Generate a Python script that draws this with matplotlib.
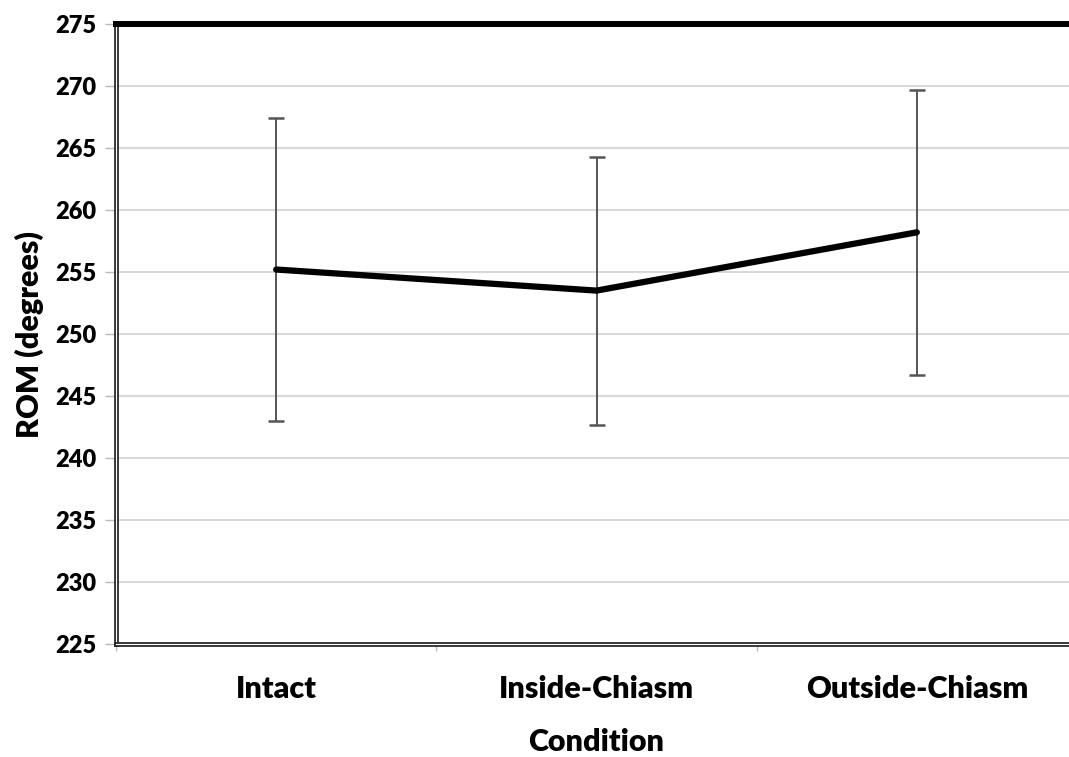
import numpy as np
import matplotlib
matplotlib.use("Agg")
import matplotlib.pyplot as plt
import matplotlib.patheffects as pe

# data
conditions = ["Intact", "Inside-Chiasm", "Outside-Chiasm"]
rom_mean = [255.2, 253.5, 258.2]
rom_err = [12.2, 10.8, 11.5]
y_ticks = [225, 230, 235, 240, 245, 250, 255, 260, 265, 270, 275]

plt.rcParams["font.family"] = ["Lato", "DejaVu Sans"]
plt.rcParams["font.weight"] = "heavy"

fig = plt.figure(figsize=(10.69, 7.57), dpi=100)
ax = fig.add_axes([116 / 1069, 113 / 757, 961 / 1069, 620 / 757])

x = np.arange(len(conditions)) + 0.5

ax.errorbar(x, rom_mean, yerr=rom_err, fmt="none", ecolor="#555555",
            elinewidth=1.4, capsize=6, capthick=1.8, zorder=3)
ax.plot(x, rom_mean, color="black", lw=4.5, solid_capstyle="round", zorder=4)

ax.set_xlim(0, 3)
ax.set_ylim(225, 275)
ax.set_yticks(y_ticks)
ax.set_xticks([0, 1, 2, 3])
ax.set_xticklabels([])
ax.set_xticks(x, minor=True)
ax.set_xticklabels(conditions, minor=True, fontsize=22, fontweight="heavy")
ax.tick_params(axis="x", which="minor", length=0, pad=22)
ax.tick_params(axis="x", which="major", length=5, color="#bbbbbb", width=1)
ax.tick_params(axis="y", length=8, color="#bbbbbb", width=1, pad=6,
               labelsize=17)
for lab in ax.get_yticklabels():
    lab.set_fontweight("heavy")

ax.yaxis.grid(True, color="#d9d9d9", lw=1.5)
ax.set_axisbelow(True)

ax.spines["right"].set_visible(False)
ax.spines["top"].set_linewidth(4.3)
ax.spines["top"].set_color("black")
for side in ["left", "bottom"]:
    sp = ax.spines[side]
    sp.set_linewidth(3.2)
    sp.set_color("#222222")
    sp.set_path_effects([pe.Stroke(linewidth=3.4, foreground="#222222"),
                         pe.Stroke(linewidth=0.9, foreground="white")])

ax.set_ylabel("ROM (degrees)", fontsize=22, fontweight="heavy", labelpad=8)
ax.set_xlabel("Condition", fontsize=22, fontweight="heavy", labelpad=18)

fig.savefig("out.png", dpi=100)
